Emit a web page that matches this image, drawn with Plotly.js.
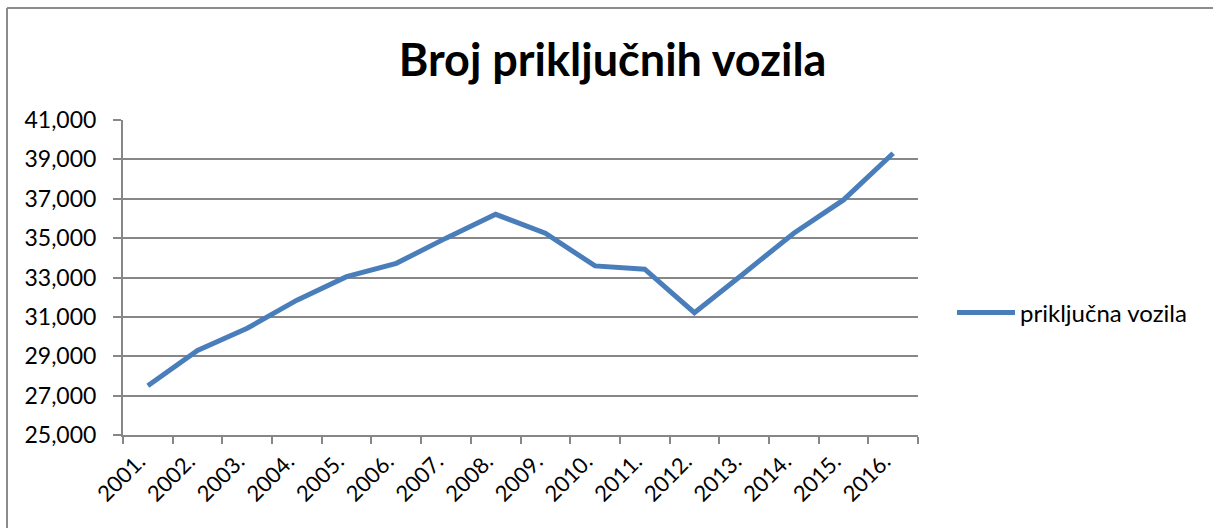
<!DOCTYPE html>
<html>
<head>
<meta charset="utf-8">
<script src="https://cdn.plot.ly/plotly-3.0.1.min.js"></script>
<style>
html,body{margin:0;padding:0;background:#fff;}
#chart{width:1213px;height:528px;}
</style>
</head>
<body>
<div id="chart"></div>
<script>
var years = ["2001.","2002.","2003.","2004.","2005.","2006.","2007.","2008.","2009.","2010.","2011.","2012.","2013.","2014.","2015.","2016."];
var vozila = [27500, 29300, 30420, 31850, 33040, 33720, 35000, 36210, 35250, 33590, 33420, 31210, 33220, 35250, 36940, 39310];
var yTicks = [25000, 27000, 29000, 31000, 33000, 35000, 37000, 39000, 41000];
var seriesName = "priključna vozila";
var chartTitle = "Broj priključnih vozila";

var W = 1213, H = 528;
var L = 123, R = 918, T = 120, B = 435;
var pw = R - L, ph = B - T;
function px(x){ return (x - L) / pw; }
function py(y){ return (B - y) / ph; }

var grey = "#878787";
var trace = {
  x: years, y: vozila, type: "scatter", mode: "lines", name: seriesName,
  line: {color: "#4a7ebb", width: 5}
};
var layout = {
  width: W, height: H,
  margin: {l: L, r: W - R, t: T, b: H - B, pad: 0},
  paper_bgcolor: "#fff", plot_bgcolor: "#fff",
  font: {family: "Lato, 'Open Sans', sans-serif", color: "#000"},
  title: {text: "<b>" + chartTitle + "</b>", font: {size: 45, family: "Lato, sans-serif", color: "#000"},
          x: 0.505, xanchor: "center", y: 0.885, yanchor: "middle"},
  showlegend: true,
  legend: {x: px(952), y: py(313), xanchor: "left", yanchor: "middle", font: {size: 24},
           bgcolor: "rgba(0,0,0,0)", itemwidth: 58},
  xaxis: {
    type: "category", tickmode: "array", tickvals: years, ticktext: years,
    range: [-0.5, years.length - 0.5], tickson: "boundaries",
    ticks: "outside", ticklen: 7, tickwidth: 2, tickcolor: grey,
    showline: true, linecolor: grey, linewidth: 2, showgrid: false, zeroline: false,
    tickangle: -45, tickfont: {size: 22}, ticklabelshift: -9, ticklabelstandoff: 3
  },
  yaxis: {
    range: [25000, 41000], tickmode: "array", tickvals: yTicks,
    tickformat: ",d", ticks: "outside", ticklen: 8, tickwidth: 2, tickcolor: grey,
    showline: true, linecolor: grey, linewidth: 2,
    showgrid: true, gridcolor: grey, gridwidth: 2, zeroline: false,
    tickfont: {size: 23}, ticklabelstandoff: 12
  },
  shapes: [
    {type: "line", xref: "paper", yref: "paper", x0: px(7), x1: px(7), y0: py(8), y1: py(540), line: {color: "#8c8c8c", width: 2}},
    {type: "line", xref: "paper", yref: "paper", x0: px(7), x1: px(1220), y0: py(8), y1: py(8), line: {color: "#8c8c8c", width: 2}}
  ]
};
Plotly.newPlot("chart", [trace], layout, {displayModeBar: false, staticPlot: true});
</script>
</body>
</html>
